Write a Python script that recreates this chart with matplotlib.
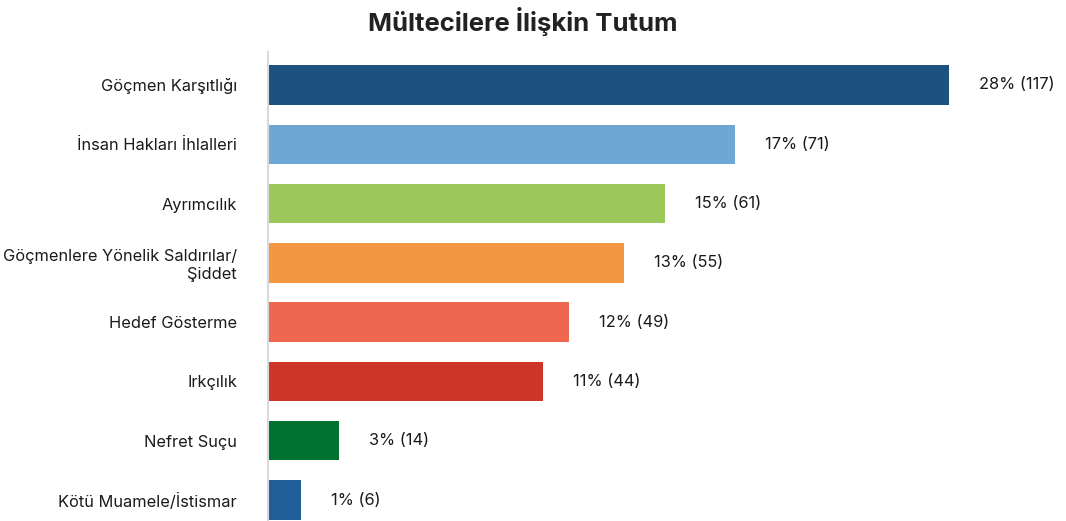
import matplotlib.pyplot as plt

plt.rcParams['font.family'] = ['Inter', 'DejaVu Sans']

# categories, top to bottom
categories = ['Göçmen Karşıtlığı', 'İnsan Hakları İhlalleri', 'Ayrımcılık',
              'Göçmenlere Yönelik Saldırılar/\nŞiddet', 'Hedef Gösterme',
              'Irkçılık', 'Nefret Suçu', 'Kötü Muamele/İstismar']
counts = [117, 71, 61, 55, 49, 44, 14, 6]
percents = [28, 17, 15, 13, 12, 11, 3, 1]
# bar lengths as drawn in the picture (same scale as counts for the top bar)
bar_values = [117, 80.2, 68.2, 61.2, 51.7, 47.3, 12.2, 5.7]
colors = ['#1d5280', '#6ea6d4', '#9cc75b', '#f39742',
          '#ef6651', '#cd3528', '#00722f', '#1f5e99']

fig = plt.figure(figsize=(10.66, 5.21), dpi=100)
ax = fig.add_axes([268 / 1066, 0, 1 - 268 / 1066, 1 - 52 / 521])

y = list(range(len(categories)))
ax.barh(y, bar_values, height=0.666, color=colors)

ax.set_xlim(0, (1066 - 268) / 5.82)
ax.set_ylim(7 + 0.354, -0.556)

for i, v in enumerate(bar_values):
    ax.text(v + 30 / 5.82, i, f'{percents[i]}% ({counts[i]})',
            va='center', ha='left', fontsize=11.8, color='#1a1a1a')

ax.set_yticks(y)
ax.set_yticklabels(categories, fontsize=11.8, color='#1a1a1a', ha='right')
ax.tick_params(axis='y', length=0, pad=22.3)
ax.set_xticks([])

for s in ['top', 'right', 'bottom']:
    ax.spines[s].set_visible(False)
ax.spines['left'].set_color('#d9d9d9')
ax.spines['left'].set_linewidth(1.5)

fig.text(523 / 1066, 1 - 22 / 521, 'Mültecilere İlişkin Tutum', ha='center',
         va='center', fontsize=18.5, fontweight='bold', color='#222222')

fig.savefig('out.png', dpi=100)
